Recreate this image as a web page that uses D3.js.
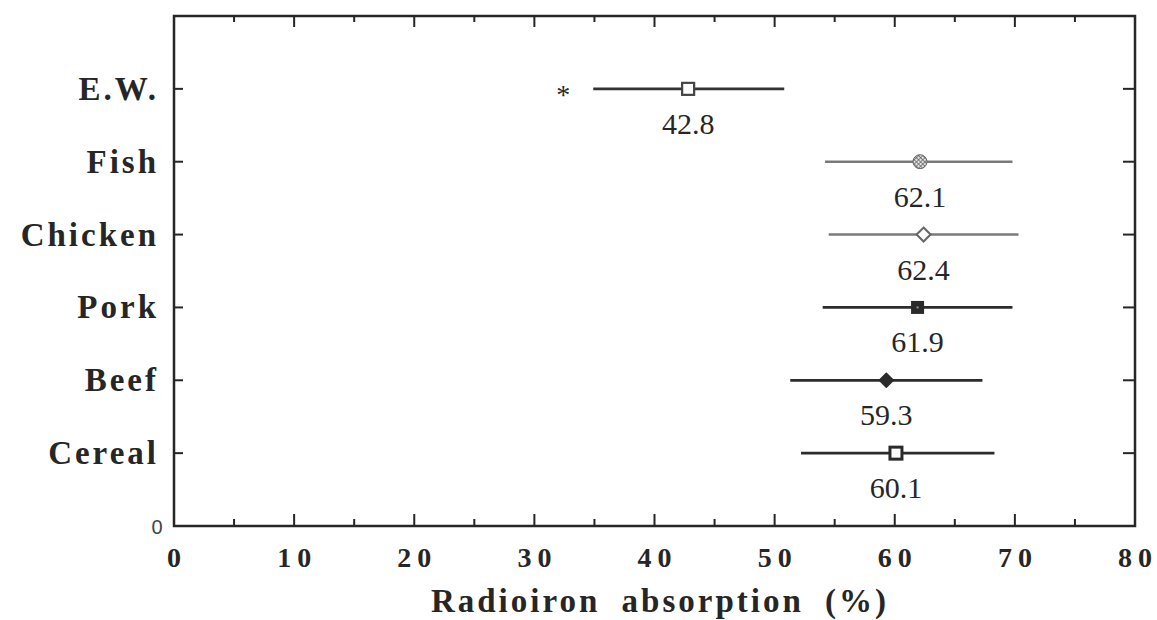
<!DOCTYPE html>
<html>
<head>
<meta charset="utf-8">
<script src="https://cdn.jsdelivr.net/npm/d3@7/dist/d3.min.js"></script>
<style>
  html, body { margin: 0; padding: 0; background: #ffffff; }
  svg { display: block; }
</style>
</head>
<body>
<svg id="chart" width="1157" height="620"></svg>
<script>
// Mean radioiron absorption (%) with ranges, by meal type
const categories = ["E.W.", "Fish", "Chicken", "Pork", "Beef", "Cereal"];
const means = [42.8, 62.1, 62.4, 61.9, 59.3, 60.1];
const lows  = [34.9, 54.2, 54.5, 54.0, 51.3, 52.2];
const highs = [50.8, 69.8, 70.3, 69.8, 67.3, 68.3];
const significant = [32.4, null, null, null, null, null]; // "*" marker position
const xTicks = [0, 10, 20, 30, 40, 50, 60, 70, 80];
const xMinorTicks = [5, 15, 25, 35, 45, 55, 65, 75];

const svg = d3.select("#chart");
const plotLeft = 174, plotRight = 1135, plotTop = 16, plotBottom = 526;

const x = d3.scaleLinear().domain([0, 80]).range([plotLeft, plotRight]);
const y = d3.scaleLinear().domain([0, 7]).range([plotBottom, plotTop]);
const slot = i => categories.length - i;

const serif = "'Liberation Serif', 'Times New Roman', serif";
const ink = "#262626";

// hatch pattern for the fish marker
const defs = svg.append("defs");
const pat = defs.append("pattern").attr("id", "hatch").attr("width", 3).attr("height", 3)
  .attr("patternUnits", "userSpaceOnUse").attr("patternTransform", "rotate(45)");
pat.append("rect").attr("width", 3).attr("height", 3).attr("fill", "#e6e6e6");
pat.append("line").attr("x1", 0).attr("y1", 0).attr("x2", 0).attr("y2", 3).attr("stroke", "#555").attr("stroke-width", 1.4);
pat.append("line").attr("x1", 0).attr("y1", 0).attr("x2", 3).attr("y2", 0).attr("stroke", "#555").attr("stroke-width", 1.4);

// frame
svg.append("rect").attr("x", plotLeft).attr("y", plotTop)
  .attr("width", plotRight - plotLeft).attr("height", plotBottom - plotTop)
  .attr("fill", "none").attr("stroke", ink).attr("stroke-width", 2.5);

// x ticks, inward on bottom and top
const tickG = svg.append("g").attr("stroke", ink).attr("stroke-width", 2);
xTicks.slice(1, -1).forEach(v => {
  tickG.append("line").attr("x1", x(v)).attr("x2", x(v)).attr("y1", plotBottom).attr("y2", plotBottom - 12);
  tickG.append("line").attr("x1", x(v)).attr("x2", x(v)).attr("y1", plotTop).attr("y2", plotTop + 11);
});
xMinorTicks.forEach(v => {
  tickG.append("line").attr("x1", x(v)).attr("x2", x(v)).attr("y1", plotBottom).attr("y2", plotBottom - 7);
  tickG.append("line").attr("x1", x(v)).attr("x2", x(v)).attr("y1", plotTop).attr("y2", plotTop + 6);
});
// category ticks on left and right
categories.forEach((c, i) => {
  const yy = y(slot(i));
  tickG.append("line").attr("x1", plotLeft).attr("x2", plotLeft + 9).attr("y1", yy).attr("y2", yy);
  tickG.append("line").attr("x1", plotRight).attr("x2", plotRight - 12).attr("y1", yy).attr("y2", yy);
});

// x tick labels
svg.append("g").selectAll("text").data(xTicks).join("text")
  .attr("x", d => x(d) + 3).attr("y", 567)
  .attr("text-anchor", "middle")
  .attr("font-family", serif).attr("font-weight", "bold").attr("font-size", 28)
  .attr("letter-spacing", 6).attr("fill", ink)
  .text(d => d);

// axis title
svg.append("text").attr("x", 660).attr("y", 612).attr("text-anchor", "middle")
  .attr("font-family", serif).attr("font-weight", "bold").attr("font-size", 33)
  .attr("letter-spacing", 3).attr("word-spacing", 10).attr("fill", ink)
  .text("Radioiron absorption (%)");

// y "0" label
svg.append("text").attr("x", 157).attr("y", y(0) + 8).attr("text-anchor", "middle")
  .attr("font-family", "'Liberation Sans', Arial, sans-serif").attr("font-size", 20)
  .attr("fill", "#444").text("0");

// category labels
svg.append("g").selectAll("text").data(categories).join("text")
  .attr("x", 159).attr("y", (d, i) => y(slot(i)) + 11)
  .attr("text-anchor", "end")
  .attr("font-family", serif).attr("font-weight", "bold").attr("font-size", 33)
  .attr("letter-spacing", 3).attr("fill", ink)
  .text(d => d);

// range lines
const lineColor = ["#333", "#7a7a7a", "#7a7a7a", "#2c2c2c", "#2c2c2c", "#2c2c2c"];
const lineWidth = [2.8, 2.4, 2.4, 2.8, 2.8, 2.8];
svg.append("g").selectAll("line").data(categories).join("line")
  .attr("x1", (d, i) => x(lows[i])).attr("x2", (d, i) => x(highs[i]))
  .attr("y1", (d, i) => y(slot(i))).attr("y2", (d, i) => y(slot(i)))
  .attr("stroke", (d, i) => lineColor[i]).attr("stroke-width", (d, i) => lineWidth[i]);

// mean markers
const mk = svg.append("g");
categories.forEach((c, i) => {
  const cx = x(means[i]), cy = y(slot(i));
  if (i === 0) {
    mk.append("rect").attr("x", cx - 6).attr("y", cy - 6).attr("width", 12).attr("height", 12)
      .attr("fill", "#fff").attr("stroke", "#444").attr("stroke-width", 2.2);
  } else if (i === 1) {
    mk.append("circle").attr("cx", cx).attr("cy", cy).attr("r", 7)
      .attr("fill", "url(#hatch)").attr("stroke", "#666").attr("stroke-width", 1);
  } else if (i === 2) {
    mk.append("path").attr("d", `M${cx},${cy - 7}L${cx + 7},${cy}L${cx},${cy + 7}L${cx - 7},${cy}Z`)
      .attr("fill", "#fff").attr("stroke", "#666").attr("stroke-width", 2);
  } else if (i === 3) {
    mk.append("rect").attr("x", cx - 6.5).attr("y", cy - 6.5).attr("width", 13).attr("height", 13)
      .attr("fill", "#2a2a2a");
    mk.append("rect").attr("x", cx - 1).attr("y", cy - 1).attr("width", 2).attr("height", 2).attr("fill", "#999");
  } else if (i === 4) {
    mk.append("path").attr("d", `M${cx},${cy - 7}L${cx + 7},${cy}L${cx},${cy + 7}L${cx - 7},${cy}Z`)
      .attr("fill", "#2a2a2a").attr("stroke", "#2a2a2a").attr("stroke-width", 1.5).attr("stroke-linejoin", "round");
  } else {
    mk.append("rect").attr("x", cx - 6).attr("y", cy - 6).attr("width", 12).attr("height", 12)
      .attr("fill", "#fff").attr("stroke", "#2a2a2a").attr("stroke-width", 3);
  }
});

// value labels under each marker
svg.append("g").selectAll("text").data(categories).join("text")
  .attr("x", (d, i) => x(means[i])).attr("y", (d, i) => y(slot(i)) + 45)
  .attr("text-anchor", "middle")
  .attr("font-family", serif).attr("font-size", 30).attr("fill", ink)
  .text((d, i) => means[i].toFixed(1));

// significance asterisk
svg.append("g").selectAll("text").data(categories.filter((d, i) => significant[i] !== null)).join("text")
  .attr("x", d => x(significant[categories.indexOf(d)]))
  .attr("y", d => y(slot(categories.indexOf(d))) + 15)
  .attr("text-anchor", "middle")
  .attr("font-family", serif).attr("font-size", 28).attr("fill", ink)
  .text("*");
</script>
</body>
</html>
